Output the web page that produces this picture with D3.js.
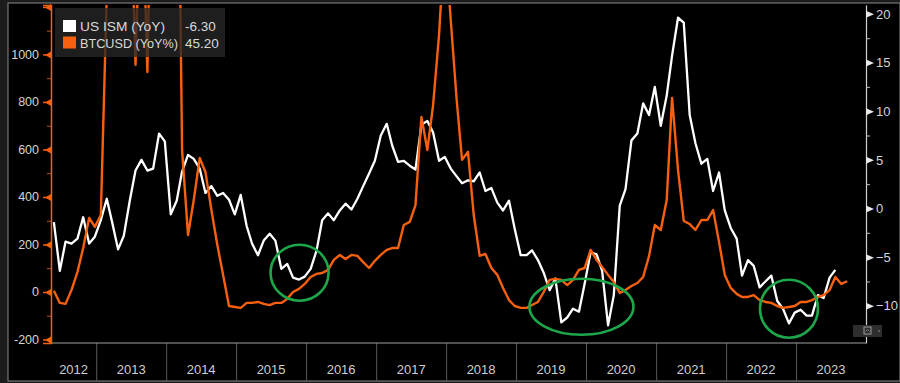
<!DOCTYPE html>
<html>
<head>
<meta charset="utf-8">
<script src="https://cdn.jsdelivr.net/npm/d3@7"></script>
<style>
  html, body { margin: 0; padding: 0; background: #1c1c1c; }
  svg { display: block; }
  text { font-family: "Liberation Sans", Arial, sans-serif; }
</style>
</head>
<body>
<svg id="chart" width="900" height="383"></svg>
<script>
// ---------- DATA (monthly, starting May 2012) ----------
const startYear = 2012;
const startMonthIndex = 4; // May (0-based)

// US ISM (YoY) - right axis
const ismYoY = [
  -1.4, -6.4, -3.4, -3.6, -3.1, -0.9, -3.6, -2.9,
  -1.2, 1.0, -1.4, -4.2, -2.8, 0.8, 3.9, 5.0, 3.9, 4.1, 7.7, 6.9,
  -0.6, 0.8, 3.8, 5.5, 5.1, 4.1, 1.6, 2.3, 1.3, 1.6, 0.9, -0.6,
  1.4, -1.8, -3.6, -4.8, -3.3, -2.6, -3.3, -6.2, -5.7, -7.1, -7.3, -7.0,
  -6.2, -4.3, -1.2, -0.5, -1.2, -0.2, 0.5, -0.1, 1.0, 2.3, 3.6, 4.9,
  7.5, 8.7, 6.5, 4.8, 4.9, 4.4, 4.0, 8.6, 9.0, 7.8, 4.9, 5.3,
  4.1, 3.3, 2.6, 2.9, 2.8, 3.7, 1.8, 2.1, 0.6, -0.2, 0.8, -2.1,
  -4.8, -4.8, -4.3, -5.3, -6.6, -8.4, -7.2, -11.7, -11.2, -10.3, -10.6, -7.7,
  -4.5, -4.7, -6.4, -12.0, -8.9, 0.3, 2.0, 7.0, 7.7, 10.8, 9.6, 12.5,
  8.5, 11.6, 15.7, 19.6, 19.1, 9.6, 6.7, 4.6, 5.1, 1.8, 3.7, -0.2,
  -2.0, -3.1, -6.9, -5.3, -5.9, -8.1, -7.5, -6.9, -9.5, -10.3, -11.8, -10.7,
  -10.4, -11.0, -11.0, -8.9, -9.2, -7.1, -6.3
];

// BTCUSD (YoY%) - left axis
const btcYoY = [
  5, -46, -50, 8, 84, 185, 312, 274,
  324, 1250, 2500, 4000, 3500, 1800, 956, 1800, 926, 2200, 5000, 6000,
  3000, 2500, 598, 240, 387, 564, 505, 345, 198, 72, -59, -63,
  -67, -46, -46, -42, -50, -55, -46, -46, -29, 0, 13, 34,
  63, 76, 80, 93, 135, 156, 139, 156, 152, 126, 101, 131,
  156, 177, 185, 185, 282, 295, 366, 737, 598, 787, 1082, 1500,
  1145, 808, 556, 590, 324, 152, 160, 101, 72, 17, -34, -59,
  -67, -67, -55, -42, 0, 51, 55, 51, 29, 51, 93, 101,
  177, 135, 105, 72, 42, -4, 8, 25, 38, 63, 152, 282,
  261, 387, 817, 514, 299, 286, 261, 303, 303, 345, 211, 72,
  17, -8, -21, -21, -13, -34, -42, -46, -59, -67, -63, -59,
  -42, -42, -34, -21, -13, 8, 63, 34, 45.2
];

const leftMajorTicks = [-200, 0, 200, 400, 600, 800, 1000, 1200];
const leftMinorTicks = [-100, 100, 300, 500, 700, 900, 1100];
const rightMajorTicks = [-10, -5, 0, 5, 10, 15, 20];
const rightMinorTicks = [-12.5, -7.5, -2.5, 2.5, 7.5, 12.5, 17.5];
const yearLabels = ["2012","2013","2014","2015","2016","2017","2018","2019","2020","2021","2022","2023"];

const legendItems = [
  { name: "US ISM (YoY)", last: "-6.30", color: "#ffffff", width: 85 },
  { name: "BTCUSD (YoY%)", last: "45.20", color: "#f7600e", width: 98 }
];

// Highlight ellipses: centre dates / values
const highlights = [
  { date: new Date(2015, 10, 28), ism: -6.6, rx: 29, ry: 28 },
  { date: new Date(2019, 11, 8), ism: -10.1, rx: 52, ry: 28 },
  { date: new Date(2022, 10, 25), ism: -10.3, rx: 29, ry: 29 }
];

// ---------- LAYOUT ----------
const svg = d3.select("#chart");
const L = 51, R = 866, T = 5, B = 343;
const ORANGE = "#f7600e";

const dateAt = i => new Date(startYear, startMonthIndex + i, 25);

const x = d3.scaleTime()
  .domain([new Date(2012, 4, 10), new Date(2024, 0, 1)])
  .range([L, R]);
const yL = d3.scaleLinear().domain([-214.7, 1208]).range([B, T]);
const yR = d3.scaleLinear().domain([-13.82, 20.91]).range([B, T]);

// frame
svg.append("rect").attr("x", 8).attr("y", 3).attr("width", 892).attr("height", 378)
  .attr("fill", "#000").attr("stroke", "#8a8a8a").attr("stroke-width", 1);

// clip
svg.append("defs").append("clipPath").attr("id", "plotclip")
  .append("rect").attr("x", L).attr("y", T).attr("width", R - L).attr("height", B - T);

// year separators (bottom axis)
const years = d3.timeYear.range(new Date(2013, 0, 1), new Date(2024, 0, 1));
const xAxis = d3.axisBottom(x).tickValues(years).tickSize(38).tickFormat("");
const gx = svg.append("g").attr("transform", `translate(0,${B})`).call(xAxis);
gx.select(".domain").remove();
gx.selectAll(".tick line").attr("stroke", "#5a5a5a").attr("stroke-width", 1);

// year labels centred on visible year interval
yearLabels.forEach(lbl => {
  const y0 = +lbl;
  const a = Math.max(L, x(new Date(y0, 0, 1)));
  const b = Math.min(R, x(new Date(y0 + 1, 0, 1)));
  svg.append("text").attr("x", (a + b) / 2).attr("y", 374)
    .attr("text-anchor", "middle").attr("fill", "#cfcfcf")
    .attr("font-size", 13).text(lbl);
});

// bottom line of plot
svg.append("line").attr("x1", L).attr("x2", R).attr("y1", B).attr("y2", B)
  .attr("stroke", "#a0a0a0").attr("stroke-width", 1);

// ---------- LEFT AXIS ----------
const gLm = svg.append("g").attr("transform", `translate(${L},0)`)
  .call(d3.axisLeft(yL).tickValues(leftMinorTicks).tickSize(4).tickFormat(""));
gLm.select(".domain").remove();
gLm.selectAll(".tick line").attr("stroke", "#b5521c").attr("stroke-width", 1);

const gL = svg.append("g").attr("transform", `translate(${L},0)`)
  .call(d3.axisLeft(yL).tickValues(leftMajorTicks).tickSize(8).tickPadding(4)
    .tickFormat(d => d === 1200 ? "" : d));
gL.select(".domain").attr("stroke", ORANGE).attr("stroke-width", 1.5);
gL.selectAll(".tick line").attr("stroke", ORANGE).attr("stroke-width", 1.5);
gL.selectAll(".tick text").attr("fill", "#d4d4d4").attr("font-size", 12.5)
  .attr("font-family", "Liberation Sans, Arial, sans-serif");
gL.selectAll(".tick").append("path")
  .attr("d", "M0,-3.5 L-6,0 L0,3.5 Z").attr("fill", ORANGE);

// ---------- RIGHT AXIS ----------
const gRm = svg.append("g").attr("transform", `translate(${R},0)`)
  .call(d3.axisRight(yR).tickValues(rightMinorTicks).tickSize(4).tickFormat(""));
gRm.select(".domain").remove();
gRm.selectAll(".tick line").attr("stroke", "#bdbdbd").attr("stroke-width", 1);

const gR = svg.append("g").attr("transform", `translate(${R},0)`)
  .call(d3.axisRight(yR).tickValues(rightMajorTicks).tickSize(0).tickPadding(10));
gR.select(".domain").attr("stroke", "#d0d0d0").attr("stroke-width", 1.2);
gR.selectAll(".tick text").attr("fill", "#d4d4d4").attr("font-size", 13)
  .attr("font-family", "Liberation Sans, Arial, sans-serif");
gR.selectAll(".tick").append("path")
  .attr("d", "M0,-3.5 L8,0 L0,3.5 Z").attr("fill", "#e8e8e8");

// ---------- SERIES ----------
const plot = svg.append("g").attr("clip-path", "url(#plotclip)");

const ismLine = d3.line().x((d, i) => x(dateAt(i))).y(d => yR(d));
const btcLine = d3.line().x((d, i) => x(dateAt(i))).y(d => yL(d));

plot.append("path").datum(ismYoY).attr("d", ismLine)
  .attr("fill", "none").attr("stroke", "#ffffff").attr("stroke-width", 2.3)
  .attr("stroke-linejoin", "round");
plot.append("path").datum(btcYoY).attr("d", btcLine)
  .attr("fill", "none").attr("stroke", ORANGE).attr("stroke-width", 2.4)
  .attr("stroke-linejoin", "round");

// highlight ellipses
plot.selectAll("ellipse.hl").data(highlights).enter().append("ellipse")
  .attr("class", "hl")
  .attr("cx", d => x(d.date)).attr("cy", d => yR(d.ism))
  .attr("rx", d => d.rx).attr("ry", d => d.ry)
  .attr("fill", "none").attr("stroke", "#1ea64a").attr("stroke-width", 2.6);

// ---------- LEGEND ----------
const lg = svg.append("g");
lg.append("rect").attr("x", 55).attr("y", 8).attr("width", 170).attr("height", 49)
  .attr("fill", "rgba(38,38,38,0.78)");
legendItems.forEach((d, i) => {
  const yy = 20 + i * 16.5;
  lg.append("rect").attr("x", 63).attr("y", yy).attr("width", 13).attr("height", 12)
    .attr("fill", d.color);
  lg.append("text").attr("x", 80).attr("y", yy + 11).attr("fill", "#d9d9d9")
    .attr("font-size", 13.5).attr("textLength", d.width)
    .attr("lengthAdjust", "spacingAndGlyphs").text(d.name);
  lg.append("text").attr("x", 185).attr("y", yy + 11).attr("fill", "#d9d9d9")
    .attr("font-size", 13.5).text(d.last);
});

// small chart-type button at bottom right
const btn = svg.append("g");
btn.append("rect").attr("x", 853).attr("y", 325).attr("width", 29).attr("height", 12)
  .attr("fill", "#2e2e2e");
btn.append("rect").attr("x", 864).attr("y", 327).attr("width", 7).attr("height", 7)
  .attr("fill", "none").attr("stroke", "#9a9a9a").attr("stroke-width", 1);
btn.append("path").attr("d", "M865.5,331.5 L867.5,329.5 L869.5,331.5")
  .attr("fill", "none").attr("stroke", "#9a9a9a").attr("stroke-width", 0.8);
btn.append("circle").attr("cx", 879).attr("cy", 331).attr("r", 0.9).attr("fill", "#777");
</script>
</body>
</html>
